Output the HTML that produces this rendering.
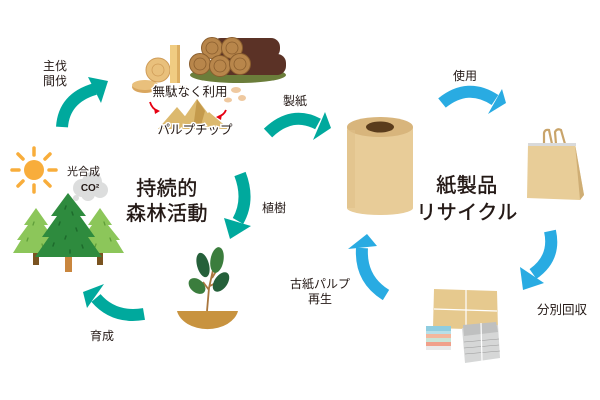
<!DOCTYPE html>
<html><head><meta charset="utf-8"><style>
html,body{margin:0;padding:0;background:#fff;}
svg{display:block;}
text{font-family:"Liberation Sans","Noto Sans CJK JP",sans-serif;fill:#231815;}
</style></head><body>
<svg width="600" height="400" viewBox="0 0 600 400" xmlns="http://www.w3.org/2000/svg">
<!-- ARROWS -->
<g fill="none" stroke-linecap="butt">
 <path d="M62,127 Q64,98 95,89" stroke="#00a99d" stroke-width="12"/>
 <path d="M268,133 Q292,110 318,124" stroke="#00a99d" stroke-width="12"/>
 <path d="M442,103 Q468,82 495,100" stroke="#29abe2" stroke-width="12"/>
 <path d="M550,231 Q556,258 533,274" stroke="#29abe2" stroke-width="12"/>
 <path d="M386,295 Q360,279 362,248" stroke="#29abe2" stroke-width="12"/>
 <path d="M144,314 Q114,319 96,298" stroke="#00a99d" stroke-width="12"/>
 <path d="M240,174 Q250,200 238,221" stroke="#00a99d" stroke-width="12"/>
</g>
<g>
 <polygon points="108,81 88,77 101,103" fill="#00a99d"/>
 <polygon points="331,128 325,112 313,140" fill="#00a99d"/>
 <polygon points="506,103 502,89 488,114" fill="#29abe2"/>
 <polygon points="523,290 520,267 544,283" fill="#29abe2"/>
 <polygon points="367,234 348,249 377,246" fill="#29abe2"/>
 <polygon points="83,292 104,284 87,308" fill="#00a99d"/>
 <polygon points="230,239 224,218 251,226" fill="#00a99d"/>
</g>

<!-- SUN -->
<g fill="#f8ad3b">
 <circle cx="34" cy="170" r="10"/>
 <g stroke="#f8ad3b" stroke-width="3.5" stroke-linecap="round">
  <line x1="34" y1="148" x2="34" y2="155"/>
  <line x1="34" y1="185" x2="34" y2="192"/>
  <line x1="12" y1="170" x2="19" y2="170"/>
  <line x1="49" y1="170" x2="56" y2="170"/>
  <line x1="18" y1="154" x2="23" y2="159"/>
  <line x1="45" y1="181" x2="50" y2="186"/>
  <line x1="18" y1="186" x2="23" y2="181"/>
  <line x1="45" y1="159" x2="50" y2="154"/>
 </g>
</g>
<!-- CLOUD -->
<g fill="#dcdddd">
 <circle cx="82" cy="188" r="9"/>
 <circle cx="92" cy="182" r="10"/>
 <circle cx="100" cy="190" r="8"/>
 <circle cx="88" cy="194" r="7"/>
 <circle cx="76" cy="198" r="3"/>
</g>
<text x="90" y="191" font-size="10" font-weight="bold" text-anchor="middle" style="fill:#231815">CO²</text>
<text x="67" y="175" font-size="11">光合成</text>

<!-- TREES -->
<rect x="33" y="250" width="6" height="15" fill="#7a5320"/>
<rect x="97" y="250" width="6" height="15" fill="#7a5320"/>
<g fill="#8cc65a">
 <polygon points="36,208 24,225 28,225 17,240 21,240 13,253 59,253 51,240 55,240 44,225 48,225"/>
 <polygon points="100,208 88,225 92,225 81,240 85,240 77,253 124,253 116,240 120,240 108,225 112,225"/>
</g>
<g stroke="#5f9e3a" stroke-width="1.3" stroke-linecap="round">
 <line x1="34" y1="222" x2="33" y2="225"/><line x1="28" y1="238" x2="27" y2="241"/><line x1="42" y1="244" x2="43" y2="247"/>
 <line x1="104" y1="222" x2="105" y2="225"/><line x1="110" y1="238" x2="111" y2="241"/><line x1="96" y1="244" x2="95" y2="247"/>
</g>
<rect x="65" y="254" width="7" height="18" fill="#c9863e"/>
<polygon points="68,193 51,216 57,216 42,237 49,237 35,257 102,257 88,237 95,237 80,216 86,216" fill="#2e8b3e"/>
<g stroke="#1e6b2c" stroke-width="1.5" stroke-linecap="round">
 <line x1="66" y1="206" x2="65" y2="209"/><line x1="72" y1="212" x2="73" y2="215"/>
 <line x1="60" y1="222" x2="59" y2="225"/><line x1="76" y1="228" x2="77" y2="231"/>
 <line x1="66" y1="236" x2="65" y2="239"/><line x1="54" y1="243" x2="53" y2="246"/>
 <line x1="82" y1="245" x2="83" y2="248"/><line x1="70" y1="250" x2="70" y2="253"/>
</g>

<!-- TITLE LEFT -->
<text x="167" y="195" font-size="20" text-anchor="middle" letter-spacing="0.5" stroke="#231815" stroke-width="0.4">持続的</text>
<text x="167" y="220" font-size="20" text-anchor="middle" letter-spacing="0.5" stroke="#231815" stroke-width="0.4">森林活動</text>

<!-- LABELS -->
<text x="43" y="70" font-size="12">主伐</text>
<text x="43" y="85" font-size="12">間伐</text>
<text x="283" y="105" font-size="12">製紙</text>
<text x="262" y="212" font-size="12">植樹</text>
<text x="90" y="340" font-size="12">育成</text>
<text x="453" y="80" font-size="12">使用</text>
<text x="537" y="314" font-size="12.5">分別回収</text>
<text x="320" y="288" font-size="12" text-anchor="middle">古紙パルプ</text>
<text x="320" y="303" font-size="12" text-anchor="middle">再生</text>

<!-- WOOD AREA -->
<ellipse cx="238" cy="75" rx="48" ry="8" fill="#6b7d3a"/>
<g fill="#5b3226">
 <rect x="212" y="38" width="68" height="20" rx="9"/>
 <rect x="220" y="54" width="66" height="21" rx="9"/>
</g>
<g fill="#b8864b" stroke="#8a5e2e" stroke-width="1">
 <circle cx="212" cy="48" r="10.5"/>
 <circle cx="232" cy="48" r="10.5"/>
 <circle cx="200" cy="64" r="10.5"/>
 <circle cx="220" cy="66" r="10.5"/>
 <circle cx="240" cy="64" r="10.5"/>
</g>
<g fill="none" stroke="#8a5e2e" stroke-width="0.8">
 <circle cx="212" cy="48" r="6"/><circle cx="232" cy="48" r="6"/>
 <circle cx="200" cy="64" r="6"/><circle cx="220" cy="66" r="6"/><circle cx="240" cy="64" r="6"/>
</g>
<!-- stumps -->
<ellipse cx="145" cy="87" rx="13" ry="6" fill="#d9a65e"/>
<ellipse cx="145" cy="85" rx="13" ry="5" fill="#e9c07c"/>
<circle cx="158" cy="70" r="12" fill="#e9c07c" stroke="#cf9c58" stroke-width="1"/>
<circle cx="158" cy="70" r="6" fill="none" stroke="#cf9c58" stroke-width="0.8"/>
<rect x="170" y="45" width="10" height="38" fill="#f0cc82"/>
<rect x="177" y="45" width="3" height="38" fill="#dcae62"/>
<!-- shavings -->
<g fill="#efc9a0">
 <ellipse cx="215" cy="89" rx="5" ry="3"/>
 <ellipse cx="236" cy="90" rx="5" ry="3"/>
 <ellipse cx="242" cy="98" rx="4" ry="3"/>
 <ellipse cx="183" cy="88" rx="5" ry="3"/>
 <ellipse cx="228" cy="100" rx="4" ry="2.5"/>
</g>
<!-- chip piles -->
<g fill="#dcb96e">
 <polygon points="158,129 177,107 196,129"/>
 <polygon points="176,129 197,99 220,129"/>
 <polygon points="194,129 209,112 229,129"/>
</g>
<g fill="#c49a4c">
 <polygon points="197,99 205,111 200,129 193,129"/>
</g>
<!-- red arrows -->
<g fill="none" stroke="#e60012" stroke-width="1.8">
 <path d="M150,102 Q152,109 158,111"/>
 <path d="M226,110 Q224,115 218,117"/>
</g>
<polygon points="160,111 154,108 155,114" fill="#e60012"/>
<polygon points="216,117 222,114 221,120" fill="#e60012"/>
<text x="190" y="96" font-size="12.5" text-anchor="middle" stroke="#fff" stroke-width="3" paint-order="stroke" style="fill:#231815">無駄なく利用</text>
<text x="195" y="134" font-size="12.5" text-anchor="middle" stroke="#fff" stroke-width="3" paint-order="stroke" style="fill:#231815">パルプチップ</text>

<!-- SEEDLING -->
<path d="M177,311 L238,311 A31,22 0 0 1 177,311 Z" fill="#c8933f"/>
<path d="M207,311 L209,288 L213,270 M209,290 L203,282 M212,278 L218,268 M210,286 L219,281" stroke="#a9763e" stroke-width="1.8" fill="none"/>
<ellipse cx="217" cy="260" rx="6.5" ry="13" transform="rotate(10 217 260)" fill="#3b7d3d"/>
<ellipse cx="203" cy="265" rx="6" ry="12.5" transform="rotate(-15 203 265)" fill="#25603a"/>
<ellipse cx="221" cy="282" rx="6.5" ry="11" transform="rotate(35 221 282)" fill="#25603a"/>
<ellipse cx="197" cy="286" rx="6.5" ry="9.5" transform="rotate(-50 197 286)" fill="#3b7d3d"/>

<!-- TOILET ROLL -->
<rect x="347" y="127" width="66" height="81" fill="#e8cc98"/>
<ellipse cx="380" cy="208" rx="33" ry="7" fill="#e8cc98"/>
<ellipse cx="380" cy="127" rx="33" ry="10" fill="#d8b57c"/>
<ellipse cx="380" cy="127" rx="14" ry="5.5" fill="#5a3c1c"/>
<rect x="347" y="130" width="8" height="78" fill="#dfc088" opacity="0.6"/>

<!-- TEXT RIGHT -->
<text x="467" y="192" font-size="20" text-anchor="middle" letter-spacing="0.5" stroke="#231815" stroke-width="0.4">紙製品</text>
<text x="467" y="219" font-size="20" text-anchor="middle" letter-spacing="0.5" stroke="#231815" stroke-width="0.4">リサイクル</text>

<!-- BAG -->
<path d="M544,144 L544,133 Q545,129 549,130 L552,144" fill="none" stroke="#c9a46a" stroke-width="2.2"/>
<path d="M556,144 L555,132 Q557,128 561,130 L565,144" fill="none" stroke="#c9a46a" stroke-width="2.2"/>
<polygon points="528,144 575,144 584,195 580,200 527,198" fill="#e8cd98"/>
<polygon points="575,144 584,195 580,200" fill="#cfae75"/>
<rect x="528" y="143" width="48" height="3" fill="#d9dadb"/>

<!-- PAPER BUNDLES -->
<polygon points="434,289 497,291 498,330 433,328" fill="#e6c98e"/>
<line x1="434" y1="309" x2="497" y2="311" stroke="#fff" stroke-width="1.2"/>
<line x1="466" y1="290" x2="466" y2="329" stroke="#fff" stroke-width="1.2"/>
<rect x="426" y="330" width="25" height="5" fill="#b7dfe8"/>
<rect x="426" y="334" width="25" height="4" fill="#f3b79d"/>
<rect x="426" y="338" width="25" height="4" fill="#c9e4d6"/>
<rect x="426" y="342" width="25" height="4" fill="#f0a08a"/>
<rect x="426" y="346" width="25" height="4" fill="#e9e9e9"/>
<rect x="426" y="326" width="25" height="5" fill="#8fcde0"/>
<polygon points="462,328 498,325 500,358 465,363" fill="#d6d7d7"/>
<polygon points="463,325 496,322 498,332 464,336" fill="#bfc0c0"/>
<g stroke="#999" stroke-width="0.6">
 <line x1="464" y1="342" x2="499" y2="339"/><line x1="464" y1="348" x2="499" y2="345"/><line x1="465" y1="354" x2="500" y2="351"/>
</g>
<line x1="481" y1="323" x2="482" y2="361" stroke="#fff" stroke-width="1.2"/>
</svg>
</body></html>
